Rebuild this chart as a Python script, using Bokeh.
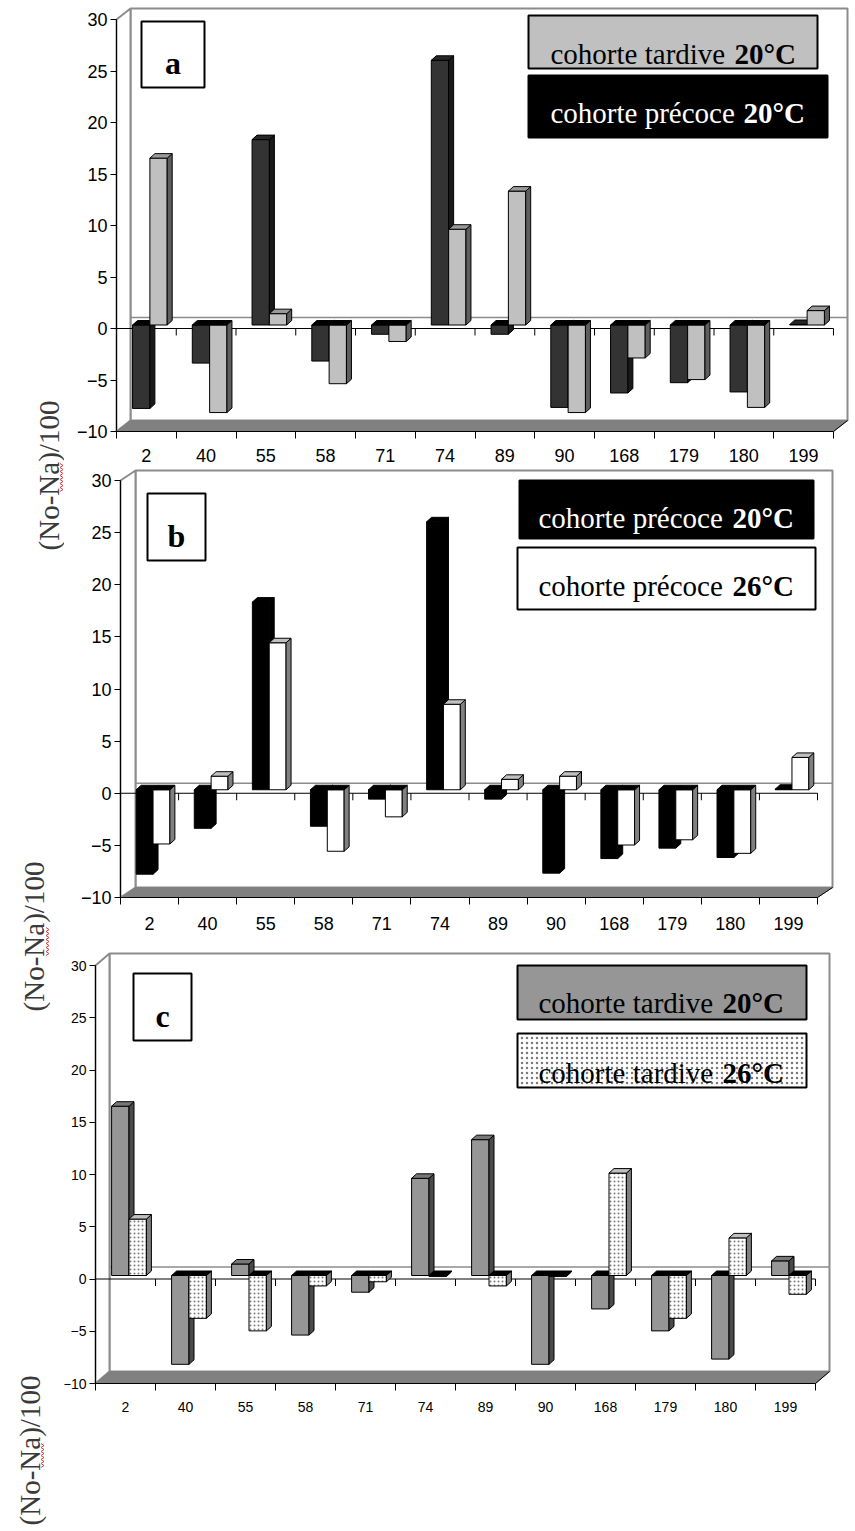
import numpy as np
from math import pi
from bokeh.plotting import figure
from bokeh.models import Range1d, FixedTicker, BoxAnnotation, Label, ColumnDataSource
from bokeh.layouts import row, column
from bokeh.embed import file_html
from bokeh.resources import INLINE

# ---------------- data ----------------
categories = ["2", "40", "55", "58", "71", "74", "89", "90", "168", "179", "180", "199"]
precoce_20 = [-8.1, -3.7, 18.0, -3.5, -0.9, 25.7, -0.9, -8.0, -6.6, -5.6, -6.5, 0.05]
tardive_20 = [16.2, -8.5, 1.1, -5.7, -1.6, 9.3, 13.0, -8.5, -3.2, -5.3, -8.0, 1.4]
precoce_26 = [-5.2, 1.3, 14.1, -5.9, -2.6, 8.2, 1.0, 1.3, -5.3, -4.8, -6.1, 3.1]
tardive_26 = [5.4, -4.1, -5.3, -1.0, -0.6, -0.1, -1.0, -0.1, 9.8, -4.1, 3.6, -1.8]
y_ticks = [-10, -5, 0, 5, 10, 15, 20, 25, 30]
y_label = "(No-Na)/100"

# ---------------- layout constants (page pixels, Bokeh page has no body margin) ----------------
PAGE_W = 855
PAGE_H = 1531
LABEL_W = 64
FIG_W = PAGE_W - LABEL_W
FIG_X0 = LABEL_W
SERIF = "Liberation Serif"
SANS = "Liberation Sans"

# style per series: (front, side, top)
ST_DARK = ("#333333", "#1a1a1a", "#262626")
ST_LIGHT = ("#c0c0c0", "#5e5e5e", "#9a9a9a")
ST_BLACK = ("#000000", "#000000", "#000000")
ST_WHITE = ("#ffffff", "#808080", "#c0c0c0")
ST_GREY = ("#969696", "#4a4a4a", "#777777")
ST_DOT = ("#ffffff", "#808080", "#c0c0c0")

panels = [
    dict(letter="a", top=0, h=468, left=116, right=833, ym10=431, y30=19, depth=(14, 11),
         tick_font="18px", standoff_x=10,
         series=[(precoce_20, ST_DARK, "blank"), (tardive_20, ST_LIGHT, "blank")],
         letter_box=(141, 21, 204, 87), letter_pos=(172.5, 62),
         legend=[((528, 15, 817, 68), "#c0c0c0", "blank", "black", "cohorte tardive", "20°C", 550, 734, 53),
                 ((528, 75, 827, 137), "#000000", "blank", "white", "cohorte précoce", "20°C", 550, 743, 112)]),
    dict(letter="b", top=468, h=467, left=120, right=817, ym10=897, y30=480, depth=(15, 10),
         tick_font="18px", standoff_x=12,
         series=[(precoce_20, ST_BLACK, "blank"), (precoce_26, ST_WHITE, "blank")],
         letter_box=(147, 493, 205, 560), letter_pos=(176, 535),
         legend=[((519, 480, 813, 538), "#000000", "blank", "white", "cohorte précoce", "20°C", 538, 732, 517),
                 ((517, 547, 815, 609), "#ffffff", "blank", "black", "cohorte précoce", "26°C", 538, 732, 585)]),
    dict(letter="c", top=935, h=596, left=95, right=815, ym10=1383, y30=965, depth=(14, 12),
         tick_font="14px", standoff_x=11,
         series=[(tardive_20, ST_GREY, "blank"), (tardive_26, ST_DOT, "dot")],
         letter_box=(133, 973, 191, 1040), letter_pos=(162, 1015),
         legend=[((517, 965, 806, 1019), "#969696", "blank", "black", "cohorte tardive", "20°C", 538, 722, 1002),
                 ((517, 1033, 806, 1087), "#ffffff", "dot", "black", "cohorte tardive", "26°C", 538, 722, 1072)]),
]


def build_panel(cfg):
    n = len(categories)
    sx = (cfg["right"] - cfg["left"]) / n
    sy = (cfg["ym10"] - cfg["y30"]) / 40.0
    x_start = 0.5 - (cfg["left"] - FIG_X0) / sx
    x_end = 0.5 + (PAGE_W - cfg["left"]) / sx
    y_end = -10 + (cfg["ym10"] - cfg["top"]) / sy
    y_start = -10 - (cfg["top"] + cfg["h"] - cfg["ym10"]) / sy

    def X(ax):
        return 0.5 + (ax - cfg["left"]) / sx

    def Y(ay):
        return -10 + (cfg["ym10"] - ay) / sy

    p = figure(width=FIG_W, height=cfg["h"], x_range=Range1d(x_start, x_end),
               y_range=Range1d(y_start, y_end),
               output_backend="svg", toolbar_location=None,
               min_border_left=0, min_border_right=0, min_border_top=0, min_border_bottom=0)
    p.xgrid.visible = False
    p.ygrid.visible = False
    p.outline_line_color = None
    p.background_fill_color = "white"
    p.border_fill_color = "white"

    DX = cfg["depth"][0] / sx
    DY = cfg["depth"][1] / sy
    xl, xr = 0.5, n + 0.5
    wall = "#8c8c8c"

    # back wall, left wall, floor
    p.quad(left=[xl + DX], right=[xr + DX], bottom=[-10 + DY], top=[30 + DY],
           fill_color="white", line_color=wall, line_width=2)
    p.patch([xl, xl + DX, xl + DX, xl], [-10, -10 + DY, 30 + DY, 30],
            fill_color="white", line_color=wall, line_width=2)
    p.patch([xl, xr, xr + DX, xl + DX], [-10, -10, -10 + DY, -10 + DY],
            fill_color="#808080", line_color="#808080", line_width=1)
    p.segment(x0=[xr], y0=[-10], x1=[xr + DX], y1=[-10 + DY], line_color="black", line_width=1)
    # back zero gridline and front zero line with ticks
    p.segment(x0=[xl + DX], y0=[DY], x1=[xr + DX], y1=[DY], line_color=wall, line_width=1.5)
    p.segment(x0=[xl], y0=[0], x1=[xr], y1=[0], line_color="black", line_width=1)
    bnd = [i + 1.5 for i in range(n)]
    p.segment(x0=bnd, y0=[0] * n, x1=bnd, y1=[-7 / sy] * n, line_color="black", line_width=1)

    # 3D bars
    w = 0.29
    fx, fy = 3.5 / sx, 3.5 / sy
    bx, by = 8.5 / sx, 8.0 / sy
    xs, ys, fills, hatches = [], [], [], []
    for i in range(n):
        c = i + 1
        for k, (vals, st, hat) in enumerate(cfg["series"]):
            v = vals[i]
            x0 = c - w + k * w
            x1 = x0 + w
            lo, hi = min(0, v), max(0, v)
            xs.append([x0 + fx, x1 + fx, x1 + fx, x0 + fx])
            ys.append([lo + fy, lo + fy, hi + fy, hi + fy])
            fills.append(st[0]); hatches.append(hat)
            xs.append([x1 + fx, x1 + bx, x1 + bx, x1 + fx])
            ys.append([lo + fy, lo + by, hi + by, hi + fy])
            fills.append(st[1]); hatches.append(hat)
            xs.append([x0 + fx, x1 + fx, x1 + bx, x0 + bx])
            ys.append([hi + fy, hi + fy, hi + by, hi + by])
            fills.append(st[2] if v > 0 else "#000000"); hatches.append("blank")
    src = ColumnDataSource(dict(xs=xs, ys=ys, fill=fills, hatch=hatches))
    p.patches("xs", "ys", source=src, fill_color="fill", line_color="black", line_width=1,
              hatch_pattern="hatch", hatch_color="#7a7a7a", hatch_scale=4, hatch_weight=1)

    # axes (fixed inside the frame so that their positions are exact)
    yax = p.yaxis[0]
    yax.fixed_location = 0.5
    yax.ticker = FixedTicker(ticks=y_ticks)
    yax.bounds = (-10, 30)
    yax.major_tick_out = 6
    yax.major_tick_in = 0
    yax.minor_tick_line_color = None
    yax.major_label_standoff = 3
    yax.major_label_text_font = SANS
    yax.major_label_text_font_size = cfg["tick_font"]
    yax.major_label_text_color = "black"
    yax.axis_line_color = "black"
    yax.major_tick_line_color = "black"

    xax = p.xaxis[0]
    xax.fixed_location = -10
    xax.ticker = FixedTicker(ticks=list(range(1, n + 1)), minor_ticks=[i + 0.5 for i in range(n + 1)])
    xax.bounds = (0.5, n + 0.5)
    xax.major_tick_out = 0
    xax.major_tick_in = 0
    xax.major_tick_line_color = None
    xax.minor_tick_out = 7
    xax.minor_tick_in = 0
    xax.minor_tick_line_color = "black"
    xax.major_label_overrides = {i + 1: lab for i, lab in enumerate(categories)}
    xax.major_label_standoff = cfg["standoff_x"]
    xax.major_label_text_font = SANS
    xax.major_label_text_font_size = cfg["tick_font"]
    xax.major_label_text_color = "black"
    xax.axis_line_color = "black"

    # letter box
    l, t, r, b = cfg["letter_box"]
    p.add_layout(BoxAnnotation(left=X(l), right=X(r), top=Y(t), bottom=Y(b), fill_color="white",
                               fill_alpha=1, line_color="black", line_width=2, line_alpha=1))
    p.add_layout(Label(x=X(cfg["letter_pos"][0]), y=Y(cfg["letter_pos"][1]), text=cfg["letter"],
                       text_font=SERIF, text_font_size="32px", text_font_style="bold",
                       text_align="center", text_baseline="alphabetic", text_color="black"))

    # legend boxes
    for (box, fill, hat, tcol, normal, bold, nx, bxp, base) in cfg["legend"]:
        l, t, r, b = box
        p.add_layout(BoxAnnotation(left=X(l), right=X(r), top=Y(t), bottom=Y(b), fill_color=fill,
                                   fill_alpha=1, line_color="black", line_width=2, line_alpha=1,
                                   hatch_pattern=hat, hatch_color="#7a7a7a", hatch_scale=5,
                                   hatch_weight=1))
        p.add_layout(Label(x=X(nx), y=Y(base), text=normal, text_font=SERIF, text_font_size="29px",
                           text_align="left", text_baseline="alphabetic", text_color=tcol))
        p.add_layout(Label(x=X(bxp), y=Y(base), text=bold, text_font=SERIF, text_font_size="29px",
                           text_font_style="bold", text_align="left", text_baseline="alphabetic",
                           text_color=tcol))
    return p


figs = [build_panel(c) for c in panels]

# ---------------- left column with rotated axis titles ----------------
lab = figure(width=LABEL_W, height=PAGE_H, x_range=Range1d(0, LABEL_W), y_range=Range1d(0, PAGE_H),
             output_backend="svg", toolbar_location=None, x_axis_type=None, y_axis_type=None,
             min_border_left=0, min_border_right=0, min_border_top=0, min_border_bottom=0)
lab.outline_line_color = None
lab.xgrid.visible = False
lab.ygrid.visible = False
label_centres = [(48, 475), (33, 936), (29, 1450)]
squiggles = [(61, 463, 492), (47, 927, 955), (42, 1443, 1468)]
for (cx, cy) in label_centres:
    lab.add_layout(Label(x=cx, y=PAGE_H - cy, text=y_label, angle=pi / 2,
                         text_font=SERIF, text_font_size="29px", text_color="#3a3a3a",
                         text_align="center", text_baseline="middle"))
for (sxp, y0, y1) in squiggles:
    yy = np.arange(y0, y1 + 1, 2.0)
    xx = sxp + np.where(np.arange(len(yy)) % 2 == 0, -1.5, 1.5)
    lab.line(xx, PAGE_H - yy, line_color="#e03c3c", line_width=1)

layout = row(lab, column(*figs))
open("out.html", "w").write(file_html(layout, INLINE))
